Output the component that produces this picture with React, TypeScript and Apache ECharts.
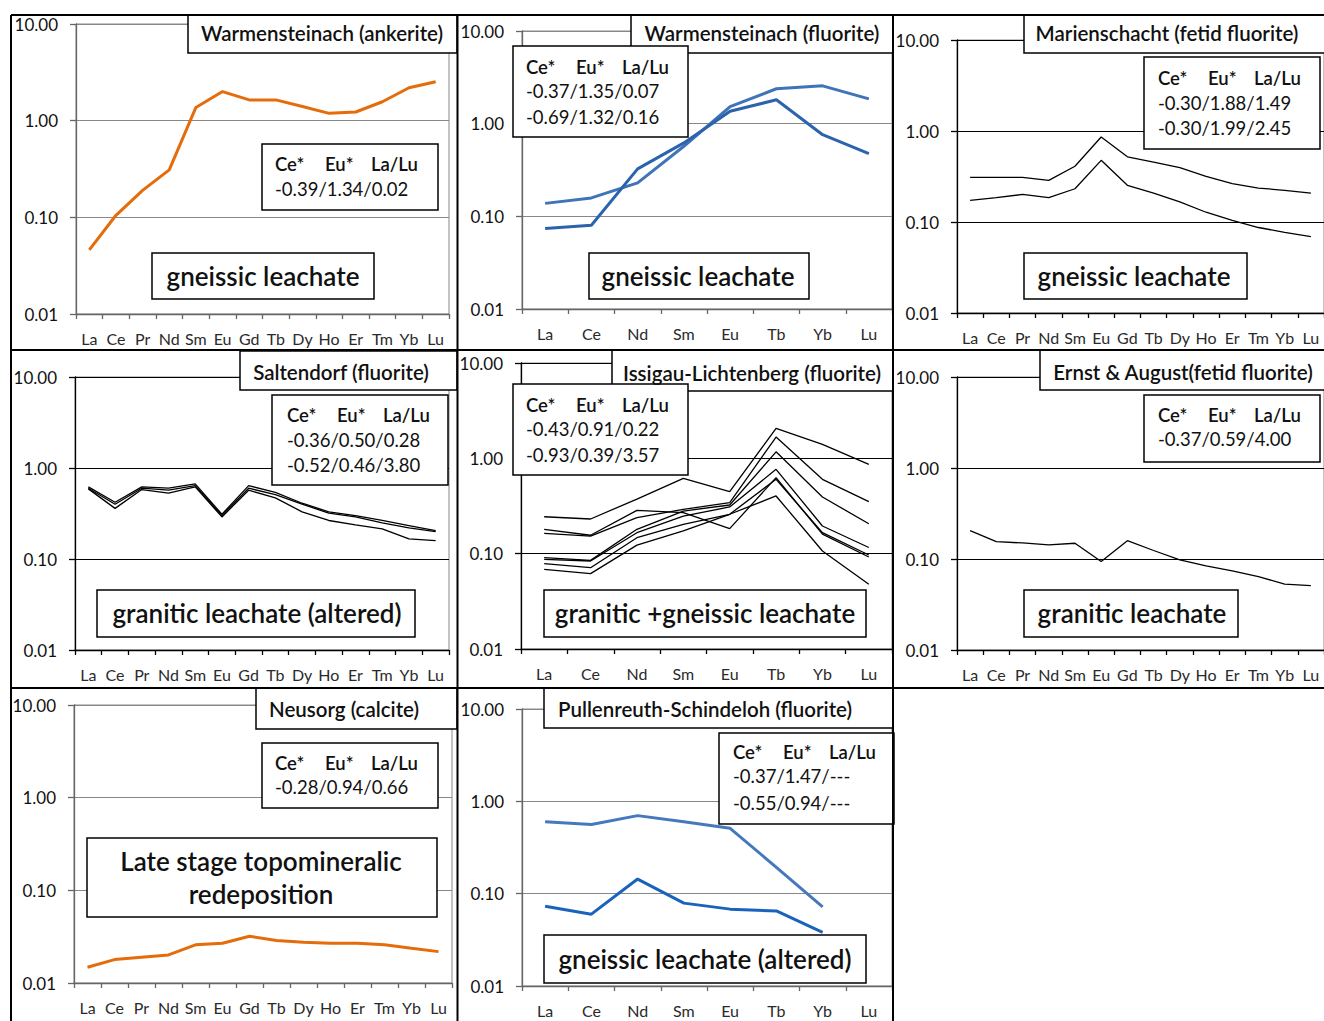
import React, { useEffect, useRef } from 'react';
import * as echarts from 'echarts';

const REE14 = ['La', 'Ce', 'Pr', 'Nd', 'Sm', 'Eu', 'Gd', 'Tb', 'Dy', 'Ho', 'Er', 'Tm', 'Yb', 'Lu'];
const REE8 = ['La', 'Ce', 'Nd', 'Sm', 'Eu', 'Tb', 'Yb', 'Lu'];
const Y_TICKS = ['10.00', '1.00', '0.10', '0.01'];

// Warmensteinach (ankerite)
const warmAnkerite = [0.046, 0.105, 0.19, 0.31, 1.37, 2.0, 1.64, 1.64, 1.4, 1.19, 1.23, 1.57, 2.19, 2.53];
// Warmensteinach (fluorite)
const warmFluoriteA = [0.138, 0.158, 0.23, 0.57, 1.53, 2.38, 2.56, 1.85];
const warmFluoriteB = [0.074, 0.08, 0.325, 0.62, 1.36, 1.81, 0.76, 0.475];
// Marienschacht (fetid fluorite)
const marienA = [0.31, 0.31, 0.31, 0.287, 0.41, 0.86, 0.52, 0.456, 0.395, 0.318, 0.264, 0.236, 0.223, 0.208];
const marienB = [0.173, 0.185, 0.201, 0.185, 0.232, 0.476, 0.253, 0.208, 0.166, 0.128, 0.104, 0.087, 0.077, 0.069];
// Saltendorf (fluorite)
const saltA = [0.62, 0.42, 0.62, 0.6, 0.67, 0.31, 0.64, 0.54, 0.41, 0.33, 0.3, 0.265, 0.233, 0.205];
const saltB = [0.6, 0.4, 0.6, 0.57, 0.64, 0.3, 0.6, 0.51, 0.4, 0.32, 0.29, 0.25, 0.22, 0.2];
const saltC = [0.59, 0.36, 0.58, 0.53, 0.62, 0.29, 0.57, 0.47, 0.33, 0.265, 0.237, 0.214, 0.166, 0.159];
// Issigau-Lichtenberg (fluorite)
const issigau1 = [0.244, 0.231, 0.374, 0.617, 0.447, 2.06, 1.4, 0.865];
const issigau2 = [0.18, 0.156, 0.285, 0.269, 0.183, 0.627, 0.16, 0.0923];
const issigau3 = [0.163, 0.153, 0.239, 0.292, 0.343, 1.67, 0.602, 0.351];
const issigau4 = [0.0908, 0.0851, 0.18, 0.28, 0.324, 1.17, 0.393, 0.206];
const issigau5 = [0.0872, 0.0838, 0.166, 0.248, 0.309, 0.767, 0.195, 0.116];
const issigau6 = [0.0785, 0.0713, 0.147, 0.203, 0.259, 0.602, 0.166, 0.0968];
const issigau7 = [0.0685, 0.0617, 0.123, 0.173, 0.259, 0.403, 0.1067, 0.0477];
// Ernst & August (fetid fluorite)
const ernst = [0.205, 0.155, 0.15, 0.143, 0.149, 0.094, 0.159, 0.124, 0.098, 0.084, 0.074, 0.064, 0.053, 0.051];
// Neusorg (calcite)
const neusorg = [0.0148, 0.0179, 0.019, 0.0201, 0.0258, 0.0269, 0.032, 0.0287, 0.0276, 0.0269, 0.0269, 0.0258, 0.0237, 0.0218];
// Pullenreuth-Schindeloh (fluorite)
const pullenA = [0.6, 0.56, 0.7, 0.6, 0.51, 0.193, 0.072];
const pullenB = [0.073, 0.06, 0.144, 0.079, 0.068, 0.065, 0.038];

const STATS_HEAD = ['Ce*', 'Eu*', 'La/Lu'];
const stats1 = ['-0.39/1.34/0.02'];
const stats2 = ['-0.37/1.35/0.07', '-0.69/1.32/0.16'];
const stats3 = ['-0.30/1.88/1.49', '-0.30/1.99/2.45'];
const stats4 = ['-0.36/0.50/0.28', '-0.52/0.46/3.80'];
const stats5 = ['-0.43/0.91/0.22', '-0.93/0.39/3.57'];
const stats6 = ['-0.37/0.59/4.00'];
const stats7 = ['-0.28/0.94/0.66'];
const stats8 = ['-0.37/1.47/---', '-0.55/0.94/---'];

const ORANGE = '#E46C0A';
const FONT = 'Lato, "Open Sans", sans-serif';

type Panel = {
  grid: [number, number, number, number];
  cats: string[];
  lines: { data: number[]; color: string; width: number }[];
  dark: boolean;
  title: { text: string; box: [number, number, number, number]; cx: number; cy: number };
  stats: { box: [number, number, number, number]; x: number; ys: number[]; rows: string[] };
  label: { box: [number, number, number, number]; cx: number; ys: number[]; rows: string[] };
};

const thin = (d: number[]) => ({ data: d, color: '#000', width: 1.3 });

const PANELS: Panel[] = [
  {
    grid: [76, 24, 373, 290], cats: REE14, dark: false,
    lines: [{ data: warmAnkerite, color: ORANGE, width: 3 }],
    title: { text: 'Warmensteinach (ankerite)', box: [188, 15, 457, 53], cx: 322, cy: 33 },
    stats: { box: [262, 144, 438, 210], x: 275, ys: [164, 189], rows: stats1 },
    label: { box: [152, 253, 374, 299], cx: 263, ys: [276], rows: ['gneissic leachate'] },
  },
  {
    grid: [522, 31, 370, 278], cats: REE8, dark: false,
    lines: [
      { data: warmFluoriteA, color: '#3F74B9', width: 3 },
      { data: warmFluoriteB, color: '#2C63AD', width: 3 },
    ],
    title: { text: 'Warmensteinach (fluorite)', box: [631, 15, 893, 53], cx: 762, cy: 33 },
    stats: { box: [513, 46, 688, 137], x: 526, ys: [67, 91, 117], rows: stats2 },
    label: { box: [589, 253, 809, 299], cx: 698, ys: [276], rows: ['gneissic leachate'] },
  },
  {
    grid: [957, 40, 371, 273], cats: REE14, dark: true,
    lines: [thin(marienA), thin(marienB)],
    title: { text: 'Marienschacht (fetid fluorite)', box: [1024, 15, 1330, 53], cx: 1167, cy: 33 },
    stats: { box: [1144, 57, 1320, 149], x: 1158, ys: [78, 103, 128], rows: stats3 },
    label: { box: [1024, 253, 1247, 299], cx: 1134, ys: [276], rows: ['gneissic leachate'] },
  },
  {
    grid: [75, 377, 374, 273], cats: REE14, dark: true,
    lines: [thin(saltA), thin(saltB), thin(saltC)],
    title: { text: 'Saltendorf (fluorite)', box: [240, 351, 457, 390], cx: 341, cy: 372 },
    stats: { box: [272, 395, 448, 485], x: 287, ys: [415, 440, 465], rows: stats4 },
    label: { box: [97, 590, 415, 637], cx: 257, ys: [613], rows: ['granitic leachate (altered)'] },
  },
  {
    grid: [521, 363, 371, 286], cats: REE8, dark: true,
    lines: [thin(issigau1), thin(issigau2), thin(issigau3), thin(issigau4), thin(issigau5), thin(issigau6), thin(issigau7)],
    title: { text: 'Issigau-Lichtenberg (fluorite)', box: [612, 350, 893, 391], cx: 752, cy: 373 },
    stats: { box: [513, 384, 688, 475], x: 526, ys: [405, 429, 455], rows: stats5 },
    label: { box: [544, 590, 866, 637], cx: 705, ys: [613], rows: ['granitic +gneissic leachate'] },
  },
  {
    grid: [957, 377, 371, 273], cats: REE14, dark: true,
    lines: [thin(ernst)],
    title: { text: 'Ernst & August(fetid fluorite)', box: [1040, 350, 1330, 390], cx: 1183, cy: 372 },
    stats: { box: [1144, 395, 1320, 462], x: 1158, ys: [415, 439], rows: stats6 },
    label: { box: [1024, 590, 1238, 637], cx: 1132, ys: [613], rows: ['granitic leachate'] },
  },
  {
    grid: [74, 705, 378, 278], cats: REE14, dark: false,
    lines: [{ data: neusorg, color: ORANGE, width: 3 }],
    title: { text: 'Neusorg (calcite)', box: [256, 688, 457, 729], cx: 344, cy: 709 },
    stats: { box: [262, 743, 438, 808], x: 275, ys: [763, 787], rows: stats7 },
    label: { box: [87, 838, 437, 917], cx: 261, ys: [861, 894], rows: ['Late stage topomineralic', 'redeposition'] },
  },
  {
    grid: [522, 709, 370, 277], cats: REE8, dark: false,
    lines: [
      { data: pullenA, color: '#4678BE', width: 3 },
      { data: pullenB, color: '#1A63BD', width: 3 },
    ],
    title: { text: 'Pullenreuth-Schindeloh (fluorite)', box: [544, 688, 893, 728], cx: 705, cy: 709 },
    stats: { box: [719, 733, 894, 824], x: 733, ys: [752, 776, 803], rows: stats8 },
    label: { box: [544, 935, 866, 983], cx: 705, ys: [959], rows: ['gneissic leachate (altered)'] },
  },
];

const FRAME: [number, number, number, number][] = [
  [11, 15, 1324, 15],
  [11, 15, 11, 1021],
  [457.5, 15, 457.5, 1021],
  [893, 15, 893, 1021],
  [11, 350, 1324, 350],
  [11, 688, 1324, 688],
];

function boxRect(b: [number, number, number, number]) {
  return {
    type: 'rect', z: 100,
    shape: { x: b[0], y: b[1], width: b[2] - b[0], height: b[3] - b[1] },
    style: { fill: '#fff', stroke: '#000', lineWidth: 1.5 },
  };
}

function txt(text: string, x: number, y: number, size: number, weight: any, align = 'left') {
  return {
    type: 'text', z: 101, x, y,
    style: { text, fontSize: size, fontFamily: FONT, fontWeight: weight, fill: '#111', align, verticalAlign: 'middle' },
  };
}

export default function App() {
  const ref = useRef<HTMLDivElement>(null);
  useEffect(() => {
    if (!ref.current) return;
    const chart = echarts.init(ref.current, undefined, { renderer: 'svg' });
    const grids: any[] = [];
    const xAxes: any[] = [];
    const yAxes: any[] = [];
    const series: any[] = [];
    const graphics: any[] = [];

    PANELS.forEach((p, i) => {
      const axisColor = p.dark ? '#000' : '#666';
      const splitColor = p.dark ? '#000' : '#888';
      grids.push({
        left: p.grid[0], top: p.grid[1], width: p.grid[2], height: p.grid[3],
        show: true, borderColor: '#888', borderWidth: 1, backgroundColor: 'transparent', containLabel: false,
      });
      xAxes.push({
        type: 'category', gridIndex: i, data: p.cats, boundaryGap: true,
        axisLine: { show: true, onZero: false, lineStyle: { color: axisColor, width: 1.3 } },
        axisTick: { show: true, length: 5, interval: 0, lineStyle: { color: axisColor, width: 1.3 } },
        axisLabel: { interval: 0, hideOverlap: false, fontSize: 16, fontFamily: FONT, color: '#2a2a2a', margin: 16 },
        splitLine: { show: false },
      });
      yAxes.push({
        type: 'log', logBase: 10, gridIndex: i, min: 0.01, max: 10,
        axisLine: { show: true, lineStyle: { color: axisColor, width: 1.3 } },
        axisTick: { show: true, length: 6, lineStyle: { color: axisColor, width: 1.3 } },
        minorTick: { show: false },
        splitLine: { show: true, lineStyle: { color: splitColor, width: 1.2 } },
        axisLabel: {
          fontSize: 17, fontFamily: FONT, color: '#111', margin: 18,
          formatter: (v: number) => {
            const idx = Math.round(1 - Math.log10(v));
            return Y_TICKS[idx] ?? v.toFixed(2);
          },
        },
      });
      p.lines.forEach((l) => {
        series.push({
          type: 'line', xAxisIndex: i, yAxisIndex: i, data: l.data, symbol: 'none', silent: true, z: 2,
          lineStyle: { color: l.color, width: l.width }, itemStyle: { color: l.color },
        });
      });

      // title box
      graphics.push(boxRect(p.title.box));
      graphics.push(txt(p.title.text, p.title.cx, p.title.cy, 20.5, 600, 'center'));
      // stats box
      graphics.push(boxRect(p.stats.box));
      const offs = [0, 50, 96];
      STATS_HEAD.forEach((h, k) => graphics.push(txt(h, p.stats.x + offs[k], p.stats.ys[0], 18.5, 600)));
      p.stats.rows.forEach((r, k) => graphics.push(txt(r, p.stats.x, p.stats.ys[k + 1], 18.5, 400)));
      // label box
      graphics.push(boxRect(p.label.box));
      p.label.rows.forEach((r, k) => graphics.push(txt(r, p.label.cx, p.label.ys[k], 26, 600, 'center')));
    });

    FRAME.forEach((f) => {
      graphics.push({
        type: 'line', z: 102,
        shape: { x1: f[0], y1: f[1], x2: f[2], y2: f[3] },
        style: { stroke: '#000', lineWidth: 2 },
      });
    });

    chart.setOption({
      animation: false,
      backgroundColor: '#fff',
      grid: grids,
      xAxis: xAxes,
      yAxis: yAxes,
      series,
      graphic: graphics,
    });
    return () => chart.dispose();
  }, []);
  return (
    <div
      ref={ref}
      style={{ position: 'absolute', left: 0, top: 0, width: 1324, height: 1021, background: '#fff' }}
    />
  );
}
